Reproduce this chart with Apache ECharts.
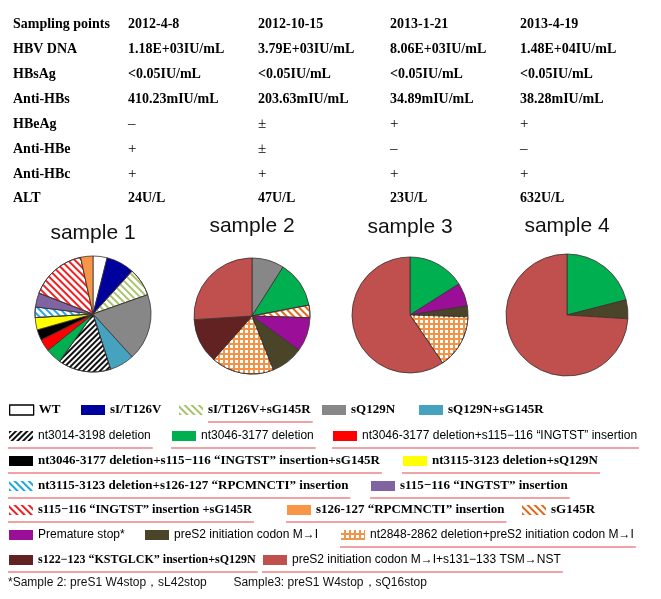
<!DOCTYPE html>
<html><head><meta charset="utf-8">
<script src="https://cdn.jsdelivr.net/npm/echarts@6/dist/echarts.min.js"></script>
<style>html,body{margin:0;padding:0;background:#fff}#c{width:661px;height:599px}</style>
</head><body><div id="c"></div>
<script>
// ---------------- DATA ----------------
const categories = [
  'WT',
  'sI/T126V',
  'sI/T126V+sG145R',
  'sQ129N',
  'sQ129N+sG145R',
  'nt3014-3198 deletion',
  'nt3046-3177 deletion',
  'nt3046-3177 deletion+s115\u2212116 \u201cINGTST\u201d insertion',
  'nt3046-3177 deletion+s115\u2212116 \u201cINGTST\u201d insertion+sG145R',
  'nt3115-3123 deletion+sQ129N',
  'nt3115-3123 deletion+s126-127 \u201cRPCMNCTI\u201d insertion',
  's115\u2212116 \u201cINGTST\u201d insertion',
  's115\u2212116 \u201cINGTST\u201d insertion +sG145R',
  's126-127 \u201cRPCMNCTI\u201d insertion',
  'sG145R',
  'Premature stop*',
  'preS2 initiation codon M\u2192I',
  'nt2848-2862 deletion+preS2 initiation codon M\u2192I',
  's122\u2212123 \u201cKSTGLCK\u201d insertion+sQ129N',
  'preS2 initiation codon M\u2192I+s131\u2212133 TSM\u2192NST'
];
// percentage of clones per category (0 = absent)
const sample1 = [4, 8, 8, 19, 7, 15, 4.5, 3.5, 3, 3.5, 3, 4, 16, 3.5, 0, 0, 0, 0, 0, 0];
const sample2 = [0, 0, 0, 9, 0, 0, 13, 0, 0, 0, 0, 0, 0, 0, 3.5, 9.5, 9, 17.5, 12.5, 26];
const sample3 = [0, 0, 0, 0, 0, 0, 16, 0, 0, 0, 0, 0, 0, 0, 0, 6.5, 3, 15, 0, 59.5];
const sample4 = [0, 0, 0, 0, 0, 0, 21, 0, 0, 0, 0, 0, 0, 0, 0, 0, 5, 0, 0, 74];
const sampleTitles = ['sample 1', 'sample 2', 'sample 3', 'sample 4'];

const tableLabels = ['Sampling points', 'HBV DNA', 'HBsAg', 'Anti-HBs', 'HBeAg', 'Anti-HBe', 'Anti-HBc', 'ALT'];
const sampleDates = ['2012-4-8', '2012-10-15', '2013-1-21', '2013-4-19'];
const hbvDNA = ['1.18E+03IU/mL', '3.79E+03IU/mL', '8.06E+03IU/mL', '1.48E+04IU/mL'];
const hbsAg = ['<0.05IU/mL', '<0.05IU/mL', '<0.05IU/mL', '<0.05IU/mL'];
const antiHBs = ['410.23mIU/mL', '203.63mIU/mL', '34.89mIU/mL', '38.28mIU/mL'];
const hbeAg = ['\u2013', '\u00b1', '+', '+'];
const antiHBe = ['+', '\u00b1', '\u2013', '\u2013'];
const antiHBc = ['+', '+', '+', '+'];
const alt = ['24U/L', '47U/L', '23U/L', '632U/L'];
const footnote = '*Sample 2: preS1 W4stop\uff0csL42stop        Sample3: preS1 W4stop\uff0csQ16stop';

// ---------------- STYLES ----------------
function hatch(c, dir, w, g) {
  return { symbol: 'rect', symbolSize: 1, color: c, dashArrayX: [1, 0], dashArrayY: [w || 1.6, g || 2.4], rotation: dir * Math.PI / 4 };
}
const catStyle = [
  { color: '#ffffff' },
  { color: '#00009c' },
  { color: '#ffffff', decal: hatch('#a8c46a', 1) },
  { color: '#878787' },
  { color: '#45a3bf' },
  { color: '#ffffff', decal: hatch('#111111', -1, 1.8, 2) },
  { color: '#00b050' },
  { color: '#ff0000' },
  { color: '#000000' },
  { color: '#ffff00' },
  { color: '#ffffff', decal: hatch('#1ea8e0', 1) },
  { color: '#8064a2' },
  { color: '#ffffff', decal: hatch('#ee2222', 1) },
  { color: '#f79646' },
  { color: '#ffffff', decal: hatch('#e06a1a', 1, 1.6, 3) },
  { color: '#9b0f98' },
  { color: '#4a4528' },
  { color: '#f0944a', decal: { symbol: 'rect', symbolSize: 1, color: '#ffffff', dashArrayX: [2.6, 1.4], dashArrayY: [2.6, 1.4], rotation: 0 } },
  { color: '#622221' },
  { color: '#c0504d' }
];

const pieGeom = [
  { cx: 93, cy: 314, r: 58, ty: 233 },
  { cx: 252, cy: 316, r: 58, ty: 226 },
  { cx: 410, cy: 315, r: 58, ty: 227 },
  { cx: 567, cy: 315, r: 61, ty: 226 }
];

// legend layout: [categoryIndex, swatchX, rowY, font, underline, maxTextEndX]
const legendLayout = [
  [0, 9, 410, 'serif', '', 80], [1, 81, 410, 'serif', '', 176], [2, 179, 410, 'serif', 'text', 318], [3, 322, 410, 'serif', '', 415], [4, 419, 410, 'serif', '', 560],
  [5, 9, 436, 'sans', 'full', 166], [6, 172, 436, 'sans', 'full', 328], [7, 333, 436, 'sans', 'full', 648],
  [8, 9, 461, 'serif', 'full', 396], [9, 403, 461, 'serif', 'full', 610],
  [10, 9, 486, 'serif', 'full', 364], [11, 371, 486, 'serif', 'full', 600],
  [12, 9, 510, 'serif', 'full', 252], [13, 287, 510, 'serif', 'full', 512], [14, 522, 510, 'serif', '', 620],
  [15, 9, 535, 'sans', '', 140], [16, 145, 535, 'sans', '', 336], [17, 341, 535, 'sans', 'full', 648],
  [18, 9, 560, 'serif', 'full', 256], [19, 263, 560, 'sans', 'full', 600]
];
const fontDefs = {
  serif: { fontFamily: 'Liberation Serif', fontWeight: 'bold', fontSize: 13 },
  sans: { fontFamily: 'Liberation Sans', fontWeight: 'normal', fontSize: 12 }
};

// ---------------- BUILD ----------------
const samples = [sample1, sample2, sample3, sample4];
const series = samples.map((vals, si) => {
  const g = pieGeom[si];
  const data = [];
  vals.forEach((v, i) => {
    if (v > 0) data.push({ name: categories[i], value: v, itemStyle: Object.assign({}, catStyle[i]) });
  });
  return {
    type: 'pie', silent: true, animation: false,
    center: [g.cx, g.cy], radius: [0, g.r],
    startAngle: 90, clockwise: true,
    label: { show: false }, labelLine: { show: false },
    emphasis: { disabled: true },
    itemStyle: { borderColor: '#3a3030', borderWidth: 0.8 },
    data: data
  };
});

const mctx = document.createElement('canvas').getContext('2d');
function measure(text, f) {
  mctx.font = f.fontWeight + ' ' + f.fontSize + 'px "' + f.fontFamily + '"';
  return mctx.measureText(text).width;
}

const SW = 24, SH = 10;
const legends = [];
const graphics = [];
legendLayout.forEach(([ci, x, y, font, ul, endX]) => {
  const base = fontDefs[font];
  const tx = x + SW + 5;
  const w0 = measure(categories[ci], base);
  let size = Math.min(base.fontSize, base.fontSize * (endX - tx) / w0);
  size = Math.max(base.fontSize - 1, size);
  const f = Object.assign({}, base, { fontSize: Math.round(size * 10) / 10 });
  const itemStyle = ci === 0 ? { borderColor: '#000', borderWidth: 1.3 } : { borderWidth: 0 };
  legends.push({
    data: [categories[ci]], left: x, top: y - 8, padding: 0,
    itemWidth: SW, itemHeight: SH, icon: 'rect', selectedMode: false,
    itemStyle: itemStyle,
    textStyle: Object.assign({ color: '#000', lineHeight: 16, padding: [0, 0, 0, 0] }, f)
  });
  if (ul) {
    const x1 = ul === 'text' ? tx : x - 1;
    const x2 = tx + measure(categories[ci], f) + 2;
    graphics.push({ type: 'line', silent: true, shape: { x1: x1, y1: y + 12, x2: x2, y2: y + 12 }, style: { stroke: '#e4464a', lineWidth: 1.2 } });
  }
});

// table
const tableCols = [13, 128, 258, 390, 520];
const tableRowY = [24, 49, 74, 99, 124, 149, 174, 198];
const tableVals = [sampleDates, hbvDNA, hbsAg, antiHBs, hbeAg, antiHBe, antiHBc, alt];
const tFont = 'bold 14px "Liberation Serif"';
tableLabels.forEach((lab, r) => {
  graphics.push({ type: 'text', silent: true, x: tableCols[0], y: tableRowY[r], style: { text: lab, font: tFont, fill: '#000', verticalAlign: 'middle' } });
  tableVals[r].forEach((v, c) => {
    const isSym = r >= 4 && r <= 6;
    graphics.push({ type: 'text', silent: true, x: tableCols[c + 1], y: tableRowY[r], style: { text: v, font: isSym ? '15px "Liberation Serif"' : tFont, fill: '#000', verticalAlign: 'middle' } });
  });
});
// titles
sampleTitles.forEach((t, i) => {
  graphics.push({ type: 'text', silent: true, x: pieGeom[i].cx, y: pieGeom[i].ty, style: { text: t, font: '21px "Liberation Sans"', fill: '#111', align: 'center', verticalAlign: 'middle' } });
});
graphics.push({ type: 'text', silent: true, x: 8, y: 583, style: { text: footnote, font: '12px "Liberation Sans"', fill: '#111', verticalAlign: 'middle' } });

const chart = echarts.init(document.getElementById('c'), null, { renderer: 'canvas' });
chart.setOption({
  backgroundColor: '#fff',
  animation: false,
  legend: legends,
  series: series,
  graphic: graphics
});
</script>
</body></html>
